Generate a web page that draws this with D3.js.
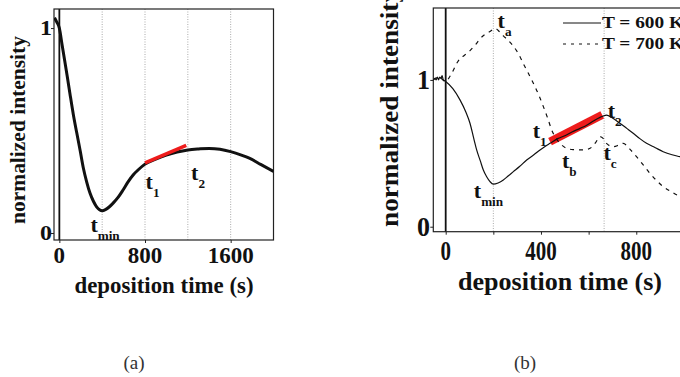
<!DOCTYPE html>
<html>
<head>
<meta charset="utf-8">
<script src="https://cdn.jsdelivr.net/npm/d3@7"></script>
<style>
  body { margin: 0; background: #fff; }
  svg { display: block; font-family: 'Liberation Serif', 'DejaVu Serif', serif; }
  .bold { font-weight: bold; }
</style>
</head>
<body>
<div id="chart"></div>
<script>
// Panel (a) data: deposition time (s) vs normalized intensity
const timeA = [-45, -25, 0, 25, 50, 75, 99, 130, 162, 195, 223, 255, 286, 318, 348, 375, 400, 430, 465, 502, 550, 595, 640, 689, 740, 797, 900, 999, 1100, 1200, 1300, 1400, 1500, 1600, 1700, 1774, 1880, 2000];
const intensityA = [1.05, 1.03, 1.0, 0.92, 0.84, 0.76, 0.68, 0.58, 0.49, 0.4, 0.32, 0.25, 0.195, 0.155, 0.128, 0.114, 0.109, 0.114, 0.127, 0.146, 0.175, 0.21, 0.248, 0.283, 0.31, 0.335, 0.36, 0.38, 0.395, 0.405, 0.41, 0.413, 0.409, 0.397, 0.38, 0.365, 0.335, 0.3];
const fitA = [[800, 0.342], [1185, 0.428]];
const gridA = [400, 800, 1200, 1600];
const ticksXA = [0, 800, 1600];
const ticksY = [0, 1];

// Panel (b) data: T = 600 K (solid) and T = 700 K (dashed)
const timeB600 = [-52, -45, -40, -35, -30, -25, -20, -15, -10, 0, 30, 60, 85, 102, 118, 130, 145, 158, 172, 186, 200, 220, 242, 262, 284, 310, 340, 370, 396, 420, 438, 470, 500, 530, 564, 590, 620, 648, 675, 700, 731, 760, 787, 815, 843, 880, 913, 950, 983, 1000];
const intensityB600 = [1.0, 1.01, 1.0, 1.02, 1.0, 1.02, 1.01, 1.03, 1.0, 0.99, 0.94, 0.864, 0.78, 0.705, 0.6, 0.523, 0.45, 0.386, 0.34, 0.307, 0.29, 0.298, 0.318, 0.345, 0.375, 0.41, 0.455, 0.49, 0.523, 0.55, 0.568, 0.6, 0.62, 0.645, 0.67, 0.69, 0.72, 0.745, 0.76, 0.74, 0.705, 0.67, 0.637, 0.6, 0.568, 0.538, 0.511, 0.49, 0.477, 0.47];
const timeB700 = [-52, -30, 0, 20, 53, 80, 102, 125, 144, 165, 186, 207, 225, 242, 262, 284, 305, 326, 347, 368, 390, 410, 428, 445, 462, 480, 508, 535, 564, 590, 606, 630, 648, 662, 675, 703, 725, 745, 772, 801, 830, 857, 885, 913, 950, 983, 1000];
const intensityB700 = [1.0, 1.02, 0.99, 1.03, 1.13, 1.17, 1.2, 1.24, 1.28, 1.31, 1.33, 1.35, 1.33, 1.3, 1.27, 1.23, 1.18, 1.11, 1.045, 0.977, 0.9, 0.818, 0.74, 0.659, 0.605, 0.568, 0.534, 0.525, 0.523, 0.527, 0.534, 0.575, 0.614, 0.6, 0.568, 0.545, 0.555, 0.568, 0.53, 0.477, 0.42, 0.364, 0.315, 0.273, 0.235, 0.205, 0.19];
const fitB = [[438, 0.58], [657, 0.762]];
const gridB = [200, 665];
const ticksXB = [0, 200, 400, 600, 800];
const labelsXB = [0, 400, 800];
const legendLabels = ['T = 600 K', 'T = 700 K'];

const width = 680;
const height = 377;
const ink = '#111';

const svg = d3
  .select('#chart')
  .append('svg')
  .attr('width', width)
  .attr('height', height);

// Scales
const xA = d3.scaleLinear().domain([-50, 2000]).range([54, 273.5]);
const yA = d3.scaleLinear().domain([-0.034, 1.093]).range([240, 9]);
const xB = d3.scaleLinear().domain([-52, 1015]).range([433.3, 687.5]);
const yB = d3.scaleLinear().domain([-0.034, 1.49]).range([231.7, 8]);

// Helper for a subscript label like t_min
const subLabel = (g, x, y, sub, size) => {
  const t = g
    .append('text')
    .attr('class', 'bold')
    .attr('x', x)
    .attr('y', y)
    .style('font-size', `${size}px`)
    .attr('fill', ink);
  t.append('tspan').text('t');
  t.append('tspan')
    .attr('dy', size * 0.36)
    .style('font-size', `${size * 0.6}px`)
    .text(sub);
};

const drawPanel = (opts) => {
  const { x, y, grid, ticksX, clipId } = opts;
  const g = svg.append('g');
  const [x0, x1] = x.range();
  const [y0, y1] = y.range();

  g.append('clipPath')
    .attr('id', clipId)
    .append('rect')
    .attr('x', x0)
    .attr('y', y1)
    .attr('width', x1 - x0)
    .attr('height', y0 - y1);

  // dotted grid
  g.selectAll('.grid')
    .data(grid)
    .enter()
    .append('line')
    .attr('x1', (d) => x(d))
    .attr('x2', (d) => x(d))
    .attr('y1', y1)
    .attr('y2', y0)
    .attr('stroke', '#aaa')
    .attr('stroke-width', 1)
    .attr('stroke-dasharray', '1,1.5');

  // x = 0 line
  g.append('line')
    .attr('x1', x(0))
    .attr('x2', x(0))
    .attr('y1', y1)
    .attr('y2', y0)
    .attr('stroke', ink)
    .attr('stroke-width', 1.8);

  // axes
  g.append('g')
    .attr('transform', `translate(0, ${y0})`)
    .call(d3.axisBottom(x).tickValues(ticksX).tickSize(3).tickFormat(''))
    .call((a) => a.select('.domain').remove())
    .call((a) => a.selectAll('.tick line').attr('stroke', '#222'));

  g.append('g')
    .attr('transform', `translate(${x0}, 0)`)
    .call(d3.axisLeft(y).tickValues(ticksY).tickSize(3).tickFormat(''))
    .call((a) => a.select('.domain').remove())
    .call((a) => a.selectAll('.tick line').attr('stroke', '#222'));

  // frame
  g.append('rect')
    .attr('x', x0)
    .attr('y', y1)
    .attr('width', x1 - x0)
    .attr('height', y0 - y1)
    .attr('fill', 'none')
    .attr('stroke', '#222')
    .attr('stroke-width', 1.2);

  const plot = g.append('g').attr('clip-path', `url(#${clipId})`);
  return { g, plot };
};

// ---------- Panel (a) ----------
const panelA = drawPanel({
  x: xA,
  y: yA,
  grid: gridA,
  ticksX: ticksXA,
  clipId: 'clipA',
});

const lineA = d3
  .line()
  .x((d) => xA(d[0]))
  .y((d) => yA(d[1]))
  .curve(d3.curveMonotoneX);

panelA.plot
  .append('path')
  .datum(timeA.map((t, i) => [t, intensityA[i]]))
  .attr('d', lineA)
  .attr('fill', 'none')
  .attr('stroke', ink)
  .attr('stroke-width', 3);

panelA.plot
  .append('path')
  .datum(fitA)
  .attr('d', d3.line().x((d) => xA(d[0])).y((d) => yA(d[1])))
  .attr('stroke', '#ee1c1c')
  .attr('stroke-width', 3.5);

// tick labels (a)
panelA.g
  .selectAll('.xlab')
  .data(ticksXA)
  .enter()
  .append('text')
  .attr('class', 'bold')
  .attr('x', (d) => xA(d))
  .attr('y', 263)
  .attr('text-anchor', 'middle')
  .style('font-size', '23px')
  .attr('fill', ink)
  .attr('textLength', (d) => String(d).length * 11.5)
  .attr('lengthAdjust', 'spacingAndGlyphs')
  .text((d) => d);

panelA.g
  .selectAll('.ylab')
  .data(ticksY)
  .enter()
  .append('text')
  .attr('class', 'bold')
  .attr('x', 52)
  .attr('y', (d) => yA(d) + 7)
  .attr('text-anchor', 'end')
  .style('font-size', '22px')
  .attr('fill', ink)
  .attr('textLength', 12)
  .attr('lengthAdjust', 'spacingAndGlyphs')
  .text((d) => d);

panelA.g
  .append('text')
  .attr('class', 'bold')
  .attr('x', 164)
  .attr('y', 293)
  .attr('text-anchor', 'middle')
  .style('font-size', '23px')
  .attr('fill', ink)
  .attr('textLength', 179)
  .attr('lengthAdjust', 'spacingAndGlyphs')
  .text('deposition time (s)');

panelA.g
  .append('text')
  .attr('class', 'bold')
  .attr('transform', 'translate(25, 130) rotate(-90)')
  .attr('text-anchor', 'middle')
  .style('font-size', '22px')
  .attr('fill', ink)
  .attr('textLength', 188)
  .attr('lengthAdjust', 'spacingAndGlyphs')
  .text('normalized intensity');

subLabel(panelA.g, xA(290), 232, 'min', 22);
subLabel(panelA.g, xA(805), 189, '1', 22);
subLabel(panelA.g, xA(1230), 180, '2', 22);

// ---------- Panel (b) ----------
const panelB = drawPanel({
  x: xB,
  y: yB,
  grid: gridB,
  ticksX: ticksXB,
  clipId: 'clipB',
});

const lineB = d3
  .line()
  .x((d) => xB(d[0]))
  .y((d) => yB(d[1]))
  .curve(d3.curveMonotoneX);

panelB.plot
  .append('path')
  .datum(fitB)
  .attr('d', d3.line().x((d) => xB(d[0])).y((d) => yB(d[1])))
  .attr('stroke', '#ee1c1c')
  .attr('stroke-width', 8);

panelB.plot
  .append('path')
  .datum(timeB700.map((t, i) => [t, intensityB700[i]]))
  .attr('d', lineB)
  .attr('fill', 'none')
  .attr('stroke', ink)
  .attr('stroke-width', 1.2)
  .attr('stroke-dasharray', '4,5');

panelB.plot
  .append('path')
  .datum(timeB600.map((t, i) => [t, intensityB600[i]]))
  .attr('d', lineB)
  .attr('fill', 'none')
  .attr('stroke', ink)
  .attr('stroke-width', 1.2);

// tick labels (b)
panelB.g
  .selectAll('.xlab')
  .data(labelsXB)
  .enter()
  .append('text')
  .attr('class', 'bold')
  .attr('x', (d) => xB(d))
  .attr('y', 260)
  .attr('text-anchor', 'middle')
  .style('font-size', '27px')
  .attr('fill', ink)
  .attr('textLength', (d) => String(d).length * 10.5)
  .attr('lengthAdjust', 'spacingAndGlyphs')
  .text((d) => d);

panelB.g
  .selectAll('.ylab')
  .data(ticksY)
  .enter()
  .append('text')
  .attr('class', 'bold')
  .attr('x', 430)
  .attr('y', (d) => yB(d) + 9)
  .attr('text-anchor', 'end')
  .style('font-size', '27px')
  .attr('fill', ink)
  .attr('textLength', 13)
  .attr('lengthAdjust', 'spacingAndGlyphs')
  .text((d) => d);

panelB.g
  .append('text')
  .attr('class', 'bold')
  .attr('x', 560)
  .attr('y', 290)
  .attr('text-anchor', 'middle')
  .style('font-size', '26px')
  .attr('fill', ink)
  .attr('textLength', 204)
  .attr('lengthAdjust', 'spacingAndGlyphs')
  .text('deposition time (s)');

panelB.g
  .append('text')
  .attr('class', 'bold')
  .attr('transform', 'translate(398, 108) rotate(-90)')
  .attr('text-anchor', 'middle')
  .style('font-size', '26px')
  .attr('fill', ink)
  .attr('textLength', 238)
  .attr('lengthAdjust', 'spacingAndGlyphs')
  .text('normalized intensity');

subLabel(panelB.g, xB(218), 28, 'a', 22);
subLabel(panelB.g, xB(365), 138, '1', 22);
subLabel(panelB.g, xB(488), 168, 'b', 22);
subLabel(panelB.g, xB(680), 118, '2', 22);
subLabel(panelB.g, xB(662), 160, 'c', 22);
subLabel(panelB.g, xB(118), 198, 'min', 22);

// legend (b)
const legend = panelB.g.append('g');
legendLabels.forEach((label, i) => {
  const ly = 23 + i * 21;
  legend
    .append('line')
    .attr('x1', 563)
    .attr('x2', 601)
    .attr('y1', ly)
    .attr('y2', ly)
    .attr('stroke', ink)
    .attr('stroke-width', 1)
    .attr('stroke-dasharray', i === 0 ? null : '3,5');
  legend
    .append('text')
    .attr('class', 'bold')
    .attr('x', 602)
    .attr('y', ly + 5)
    .style('font-size', '16px')
    .attr('fill', ink)
    .attr('textLength', 82)
    .attr('lengthAdjust', 'spacingAndGlyphs')
    .text(label);
});

// captions
svg
  .selectAll('.caption')
  .data(['(a)', '(b)'])
  .enter()
  .append('text')
  .attr('x', (d, i) => (i === 0 ? 134 : 525))
  .attr('y', 369)
  .attr('text-anchor', 'middle')
  .style('font-size', '19px')
  .attr('fill', '#333')
  .text((d) => d);
</script>
</body>
</html>
